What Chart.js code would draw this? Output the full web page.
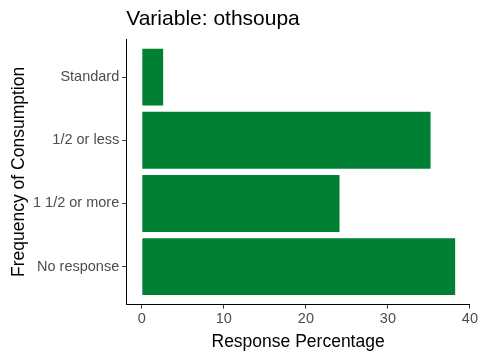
<!DOCTYPE html>
<html lang="en">
  <head>
    <meta charset="UTF-8" />
    <script src="https://cdn.jsdelivr.net/npm/chart.js"></script>
    <title>othsoupa</title>
    <style>
      html, body { margin: 0; padding: 0; background: #fff; }
      #wrap { width: 480px; height: 360px; }
    </style>
  </head>
  <body>
    <div id="wrap"><canvas id="chart"></canvas></div>

    <script>
      const categories = ["Standard", "1/2 or less", "1 1/2 or more", "No response"];
      const percentages = [2.6, 35.2, 24.1, 38.2];
      const xTicks = [0, 10, 20, 30, 40];

      const font = "'Liberation Sans', Arial, sans-serif";

      const chart = new Chart(document.getElementById("chart"), {
        type: "bar",
        data: {
          datasets: [{
            data: percentages.map((v, i) => ({ x: v, y: i + 1 })),
            backgroundColor: "#008033",
            borderWidth: 0,
            barPercentage: 0.9,
            categoryPercentage: 1,
          }],
        },
        options: {
          indexAxis: "y",
          responsive: true,
          maintainAspectRatio: false,
          animation: false,
          layout: { padding: { top: 4, right: 10, bottom: 7, left: 9 } },
          scales: {
            x: {
              type: "linear",
              min: -1.9,
              max: 40,
              afterBuildTicks: (axis) => { axis.ticks = xTicks.map(v => ({ value: v })); },
              grid: { drawOnChartArea: false, drawTicks: true, tickLength: 4, color: "#333" },
              border: { display: true, color: "#000", width: 1 },
              ticks: { color: "#4d4d4d", font: { family: font, size: 14.5 }, padding: 2 },
              title: { display: true, text: "Response Percentage", color: "#000", font: { family: font, size: 17.5 }, padding: { top: 2, bottom: 0 } },
            },
            y: {
              type: "linear",
              reverse: true,
              offset: false,
              min: 0.4,
              max: 4.6,
              afterBuildTicks: (axis) => { axis.ticks = categories.map((c, i) => ({ value: i + 1 })); },
              grid: { offset: false, drawOnChartArea: false, drawTicks: true, tickLength: 4, color: "#333" },
              border: { display: true, color: "#000", width: 1 },
              ticks: {
                color: "#4d4d4d",
                font: { family: font, size: 14.5 },
                padding: 3,
                callback: (v) => categories[v - 1],
              },
              title: { display: true, text: "Frequency of Consumption", color: "#000", font: { family: font, size: 17.5 }, padding: { top: 0, bottom: 0 } },
            },
          },
          plugins: {
            legend: { display: false },
            tooltip: { enabled: false },
            title: {
              display: true,
              text: "Variable: othsoupa",
              align: "start",
              fullSize: false,
              color: "#000",
              font: { family: font, size: 21, weight: "normal" },
              padding: { top: 3, bottom: 7 },
            },
          },
        },
      });
    </script>
  </body>
</html>
